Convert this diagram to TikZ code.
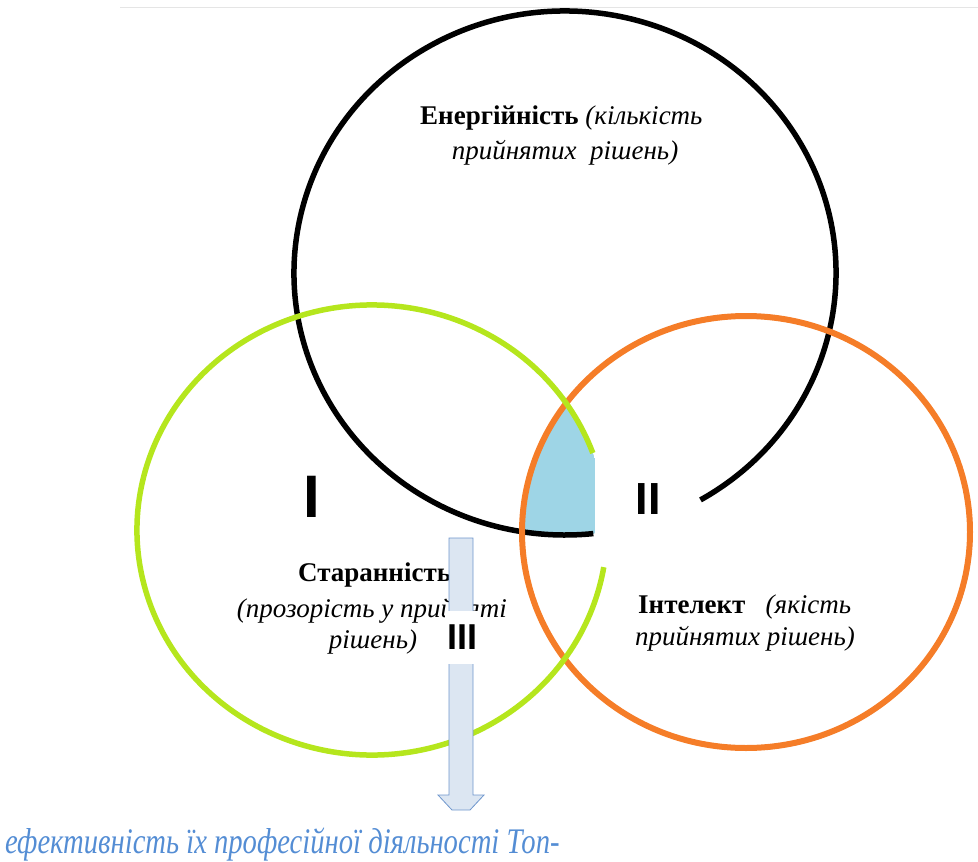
\documentclass[tikz,border=0pt]{standalone}
\usepackage{graphicx}
\usepackage{fontspec}
\setmainfont{Liberation Serif}
\newfontfamily\numfont{Liberation Sans}
\definecolor{cgreen}{RGB}{181,230,29}
\definecolor{corange}{RGB}{245,125,40}
\definecolor{cfill}{RGB}{158,213,230}
\definecolor{ctext}{RGB}{84,141,212}
\definecolor{carrowfill}{RGB}{220,230,242}
\definecolor{carrowline}{RGB}{110,150,205}
\tikzset{
  lbl/.style={inner sep=0pt, anchor=base west, font=\fontsize{27}{31}\selectfont},
  numeral/.style={inner sep=0pt, font=\numfont\bfseries},
  ring/.style={line width=5.5pt},
}
\begin{document}
\begin{tikzpicture}[x=1pt,y=-1pt]
\useasboundingbox (0,0) rectangle (978,862);
\draw[gray!20, line width=1pt] (120,7) -- (978,7);
\coordinate (bc) at (565,273);
\coordinate (gc) at (372,530);
\coordinate (oc) at (746,532);
% blue intersection region
\begin{scope}
  \clip (bc) ellipse [x radius=271pt, y radius=262pt];
  \clip (oc) ellipse [x radius=224pt, y radius=216pt];
  \clip (gc) ellipse [x radius=235pt, y radius=225pt];
  \fill[cfill] (400,300) rectangle (595,600);
\end{scope}
% black circle (open)
\draw[ring, black] (bc) ++(-60:271pt and 262pt) arc[start angle=-60, end angle=276, x radius=271pt, y radius=262pt];
% orange circle
\draw[carrowline, line width=1pt] (oc) ++(-85:226pt and 218pt) arc[start angle=-85, end angle=5, x radius=226pt, y radius=218pt];
\draw[line width=6pt, corange] (oc) ellipse [x radius=224pt, y radius=216pt];
% green circle (open)
\draw[ring, cgreen] (gc) ++(20:235pt and 225pt) arc[start angle=20, end angle=350.5, x radius=235pt, y radius=225pt];
% labels
\node[lbl] (e1) at (420,124) {\bfseries Енергійність \mdseries\itshape(кількість};
\node[lbl, anchor=base] (e2) at (565,159) {\itshape прийнятих\ \ рішень)};
\node[lbl] (s1) at (298,581) {\bfseries Старанність};
\node[lbl, anchor=base] (s2) at (372,617) {\itshape (прозорість у прийняті};
\node[lbl, anchor=base] (s3) at (373,648) {\itshape рішень)};
\node[lbl] (i1) at (638,613) {\bfseries Інтелект\ \ \ \mdseries\itshape(якість};
\node[lbl, anchor=base] (i2) at (745,645) {\itshape прийнятих рішень)};
\node[numeral, font=\numfont\bfseries\fontsize{60}{60}\selectfont] (n1) at (312,497) {I};
\node[numeral, font=\numfont\bfseries\fontsize{45}{45}\selectfont] (n2) at (648,499) {II};
% arrow
\draw[carrowline, fill=carrowfill, line width=0.8pt]
  (449,538) coordinate (at) -- (473,538) -- (473,795) -- (484,795) -- (470,810) -- (452,810)
  -- (438,795) -- (449,795) -- cycle;
\node[numeral, fill=white, minimum width=34pt, minimum height=53pt, font=\numfont\bfseries\fontsize{36}{36}\selectfont] (n3) at (462,637) {III};
% bottom text
\node[inner sep=0pt, anchor=base west, text=ctext, font=\fontsize{36}{40}\selectfont\itshape] (b) at (5,853) {\scalebox{0.795}[1]{ефективність їх професійної діяльності Топ-}};
\end{tikzpicture}
\end{document}
